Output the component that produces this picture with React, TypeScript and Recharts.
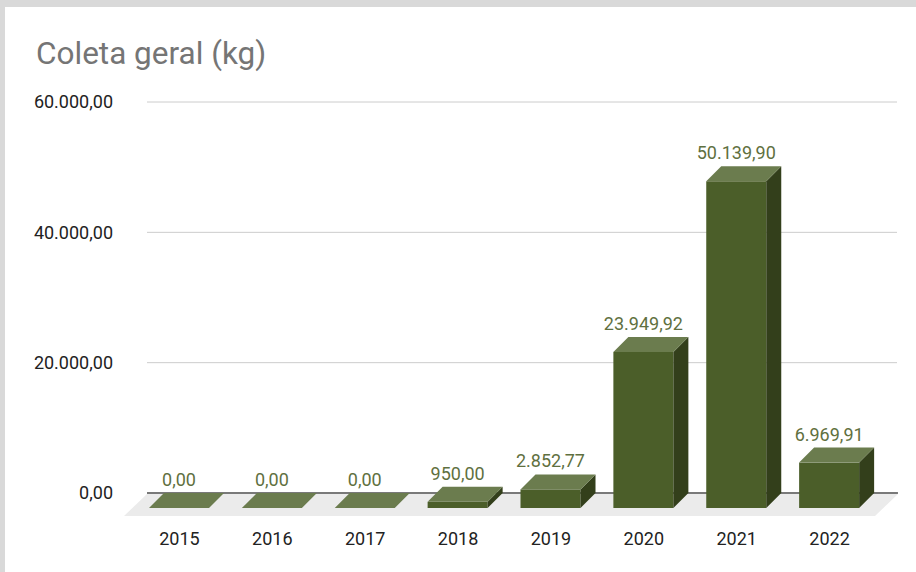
import React from "react";
import {
  BarChart,
  Bar,
  XAxis,
  YAxis,
  CartesianGrid,
  LabelList,
  ReferenceLine,
} from "recharts";

const anos = ["2015", "2016", "2017", "2018", "2019", "2020", "2021", "2022"];
const coletaKg = [0, 0, 0, 950, 2852.77, 23949.92, 50139.9, 6969.91];
const yTicks = [0, 20000, 40000, 60000];

const data = anos.map((ano, i) => ({ ano, kg: coletaKg[i] }));

// depth of the fake 3D extrusion
const D = 15;
const FONT = "Roboto, 'Noto Sans', sans-serif";

// pt-BR style: 50.139,90
const fmt = (v: number) => {
  const [int, dec] = Number(v).toFixed(2).split(".");
  return int.replace(/\B(?=(\d{3})+(?!\d))/g, ".") + "," + dec;
};

const Bar3D = (props: any) => {
  const { x, y, width, height } = props;
  const h = Math.max(0, height || 0);
  const fx = x - D;
  const fy = y + D;
  return (
    <g>
      {h > 0 && <rect x={fx} y={fy} width={width} height={h} fill="#4b5e29" />}
      {h > 0 && (
        <polygon
          points={`${fx + width},${fy} ${x + width},${y} ${x + width},${y + h} ${fx + width},${fy + h}`}
          fill="#333f1b"
        />
      )}
      <polygon
        points={`${fx},${fy} ${fx + width},${fy} ${x + width},${y} ${x},${y}`}
        fill="#6b7c4e"
      />
    </g>
  );
};

const ValueLabel = (props: any) => {
  const { x, y, width, value } = props;
  return (
    <text
      x={x - D + width / 2}
      y={y - 7}
      textAnchor="middle"
      fill="#5f7040"
      fontSize={18}
      fontFamily={FONT}
    >
      {fmt(value)}
    </text>
  );
};

const YearTick = (props: any) => {
  const { x, y, payload } = props;
  return (
    <text x={x - D} y={y + 50} textAnchor="middle" fill="#222" fontSize={18} fontFamily={FONT}>
      {payload.value}
    </text>
  );
};

const GridLine = (props: any) => {
  const { x1, x2, y1 } = props;
  return <line key={props.key} x1={x1 - 1} x2={x2 + 6} y1={y1} y2={y1} stroke="#cccccc" strokeWidth={1} />;
};

// floor + dark zero line, drawn behind the bars
const Floor = (props: any) => {
  const { x1, x2, y1 } = props;
  const l = x1 - 1;
  const r = x2 + 7;
  return (
    <g>
      <polygon
        points={`${l},${y1 + 1} ${r},${y1 + 1} ${r - 23},${y1 + 23} ${l - 23},${y1 + 23}`}
        fill="#ebebeb"
      />
      <line x1={l} x2={r} y1={y1} y2={y1} stroke="#555555" strokeWidth={1.6} />
    </g>
  );
};

export default function App() {
  return (
    <div
      style={{
        position: "fixed",
        left: 0,
        top: 0,
        width: 916,
        height: 572,
        background: "#fff",
        overflow: "hidden",
      }}
    >
      <div style={{ position: "absolute", left: 0, top: 0, width: 916, height: 7, background: "#d9d9d9" }} />
      <div style={{ position: "absolute", left: 0, top: 0, width: 5, height: 572, background: "#d9d9d9" }} />
      <div
        style={{
          position: "absolute",
          left: 36,
          top: 38,
          fontFamily: FONT,
          fontSize: 31.5,
          lineHeight: 1,
          color: "#757575",
          whiteSpace: "nowrap",
        }}
      >
        Coleta geral (kg)
      </div>
      <div style={{ position: "absolute", left: 0, top: 0 }}>
        <BarChart
          width={916}
          height={572}
          data={data}
          margin={{ top: 102, right: 25, left: 88, bottom: 49 }}
        >
          <CartesianGrid vertical={false} horizontal={GridLine as any} />
          <ReferenceLine y={0} shape={Floor as any} zIndex={-50} />
          <XAxis
            dataKey="ano"
            height={30}
            axisLine={false}
            tickLine={false}
            tickSize={0}
            tick={YearTick}
            interval={0}
          />
          <YAxis
            width={60}
            domain={[0, 60000]}
            ticks={yTicks}
            axisLine={false}
            tickLine={false}
            tickSize={0}
            tickMargin={35}
            tickFormatter={fmt}
            tick={{ fill: "#222", fontSize: 18, fontFamily: FONT }}
          />
          <Bar dataKey="kg" barSize={60} shape={Bar3D} isAnimationActive={false}>
            <LabelList dataKey="kg" content={ValueLabel} />
          </Bar>
        </BarChart>
      </div>
    </div>
  );
}
